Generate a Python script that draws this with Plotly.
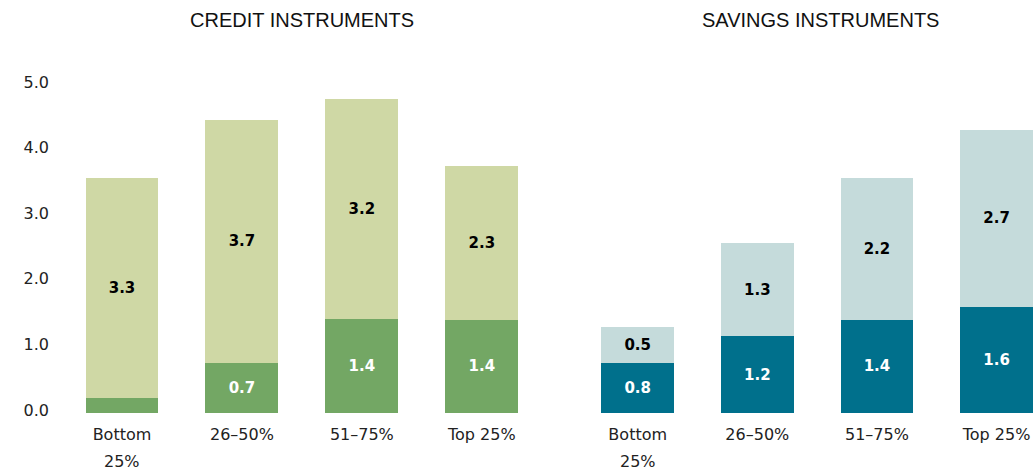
import plotly.graph_objects as go
from plotly.subplots import make_subplots

categories = ["Bottom 25%", "26–50%", "51–75%", "Top 25%"]
tick_text = ["Bottom", "26–50%", "51–75%", "Top 25%"]
second_line = "25%"
panel_titles = ["CREDIT INSTRUMENTS", "SAVINGS INSTRUMENTS"]

credit_dark = [0.23, 0.76, 1.43, 1.42]
credit_light = [3.35, 3.71, 3.36, 2.34]
credit_dark_labels = ["", "0.7", "1.4", "1.4"]
credit_light_labels = ["3.3", "3.7", "3.2", "2.3"]

savings_dark = [0.76, 1.17, 1.42, 1.61]
savings_light = [0.55, 1.42, 2.16, 2.71]
savings_dark_labels = ["0.8", "1.2", "1.4", "1.6"]
savings_light_labels = ["0.5", "1.3", "2.2", "2.7"]

y_ticks = [0, 1, 2, 3, 4, 5]

GREEN_D = "#73A764"
GREEN_L = "#CFD8A5"
TEAL_D = "#00708C"
TEAL_L = "#C5DBDB"
FONT = "DejaVu Sans"

fig = make_subplots(rows=1, cols=2, shared_yaxes=False)

def add(col, vals, labels, color, tcolor):
    fig.add_trace(go.Bar(
        x=categories, y=vals, text=labels, marker=dict(color=color, line=dict(width=0)),
        textposition="inside", insidetextanchor="middle", textangle=0,
        constraintext="none",
        textfont=dict(family=FONT, size=15, color=tcolor, weight="bold"),
        hoverinfo="skip", showlegend=False,
    ), row=1, col=col)

add(1, credit_dark, credit_dark_labels, GREEN_D, "white")
add(1, credit_light, credit_light_labels, GREEN_L, "black")
add(2, savings_dark, savings_dark_labels, TEAL_D, "white")
add(2, savings_light, savings_light_labels, TEAL_L, "black")

W, H = 1036, 475
ml, mr, mt, mb = 61.5, 0, 84.5, 62
pw = W - ml - mr
ph = H - mt - mb

fig.update_layout(
    width=W, height=H, barmode="stack", bargap=0.392,
    margin=dict(l=ml, r=mr, t=mt, b=mb),
    paper_bgcolor="white", plot_bgcolor="white",
    font=dict(family=FONT, size=16, color="#222222"),
)

axis_common = dict(showgrid=False, zeroline=False, showline=False, ticks="",
                   tickfont=dict(family=FONT, size=16, color="#222222"), fixedrange=True)

fig.update_xaxes(**axis_common, type="category", ticklabelstandoff=10,
                 tickmode="array", tickvals=categories, ticktext=tick_text)
fig.update_xaxes(domain=[0, (541.5 - ml) / pw], range=[-0.5, 3.5], row=1, col=1)
fig.update_xaxes(domain=[(577.67 - ml) / pw, 1], range=[-0.5, 3.33], row=1, col=2)

fig.update_yaxes(**axis_common, range=[0, 5.0], tickvals=y_ticks, tickformat=".1f")
fig.update_yaxes(row=1, col=1, ticklabelstandoff=12, ticklabelshift=-3)
fig.update_yaxes(row=1, col=2, showticklabels=False)

# second line of the "Bottom 25%" tick labels
for xr in ["x", "x2"]:
    fig.add_annotation(text=second_line, x=categories[0], xref=xr,
                       y=-(461.5 - (H - mb)) / ph, yref="paper",
                       showarrow=False, xanchor="center", yanchor="middle",
                       font=dict(family=FONT, size=16, color="#222222"))

title_y = (H - mb - 19) / ph
for txt, cx in zip(panel_titles, [302, 820]):
    fig.add_annotation(text=txt, x=(cx - ml) / pw, y=title_y, xref="paper", yref="paper",
                       showarrow=False, xanchor="center", yanchor="middle",
                       font=dict(family="Liberation Sans", size=20, color="#111111"))

fig.write_html("out.html", config={"displayModeBar": False},
               post_script="document.body.style.margin='0';document.body.style.padding='0';")
